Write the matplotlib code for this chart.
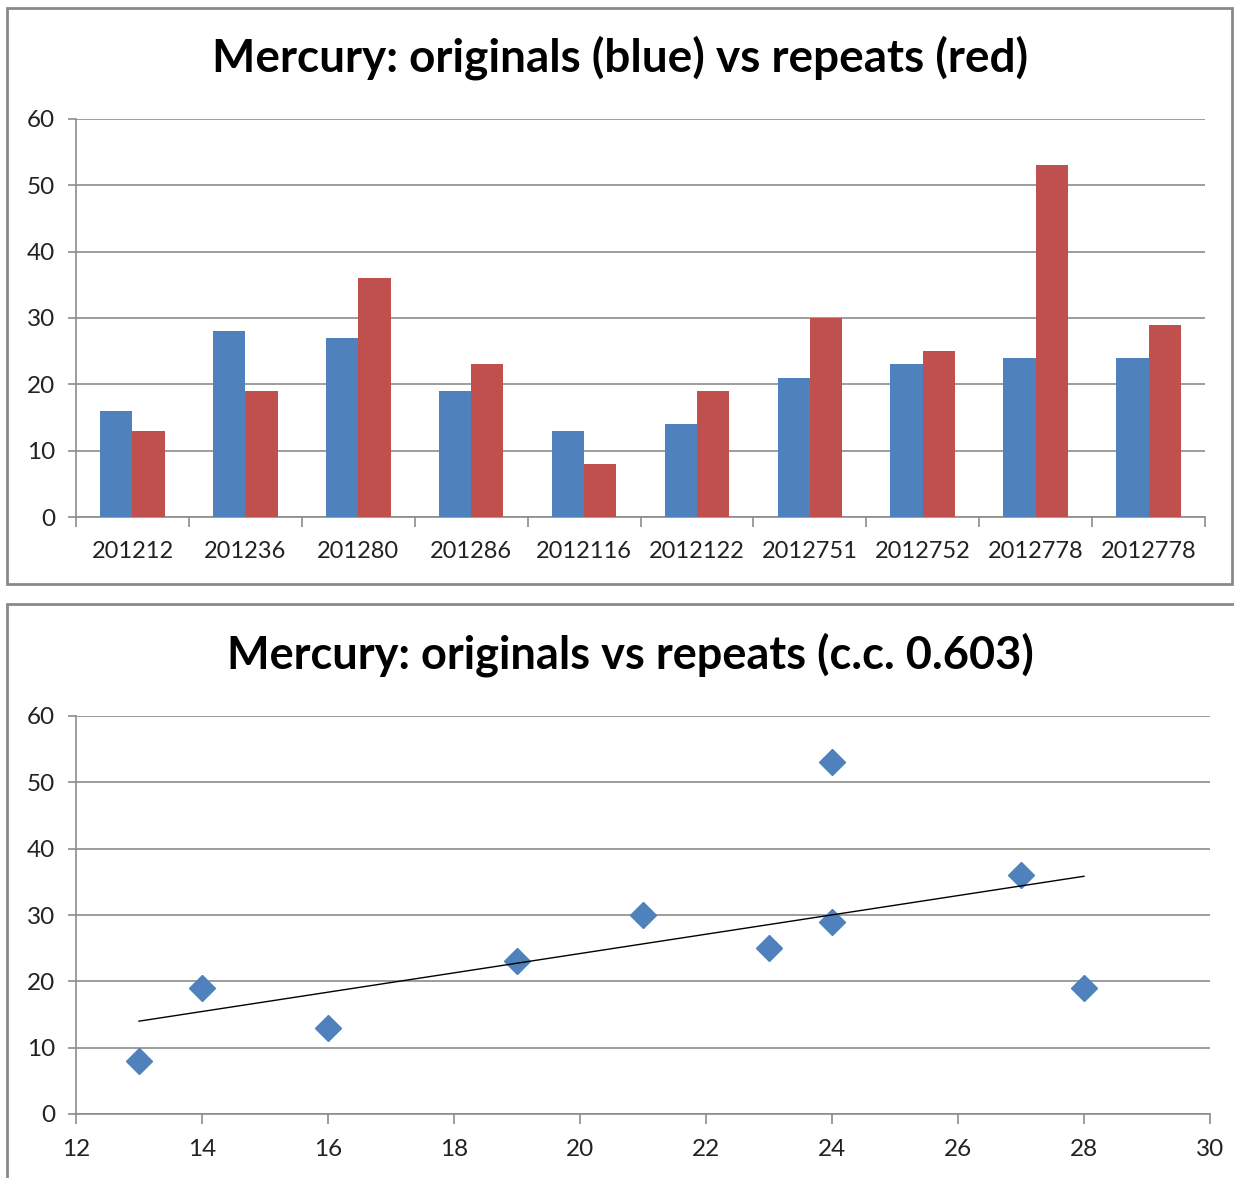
import matplotlib
matplotlib.use("Agg")
import matplotlib.pyplot as plt
import numpy as np
from matplotlib.patches import Rectangle

# Data
samples = ["201212", "201236", "201280", "201286", "2012116",
           "2012122", "2012751", "2012752", "2012778", "2012778"]
originals = [16, 28, 27, 19, 13, 14, 21, 23, 24, 24]
repeats = [13, 19, 36, 23, 8, 19, 30, 25, 53, 29]
cc_label = "0.603"

BLUE = "#4F81BD"
RED = "#C0504D"
GRID = "#8C8C8C"

W, H = 1234, 1178
plt.rcParams["font.family"] = ["Lato", "DejaVu Sans"]

fig = plt.figure(figsize=(W / 100, H / 100), dpi=100)


def px_rect(x0, y0, x1, y1):
    # pixel box -> figure fraction [left, bottom, width, height]
    return [x0 / W, 1 - y1 / H, (x1 - x0) / W, (y1 - y0) / H]


# chart frames
for (x0, y0, x1, y1) in [(7, 8, 1232, 584), (7, 604, 1240, 1190)]:
    fig.patches.append(Rectangle((x0 / W, 1 - y1 / H), (x1 - x0) / W, (y1 - y0) / H,
                                 transform=fig.transFigure, fill=False,
                                 edgecolor="#8a8a8a", linewidth=2))


def style_axes(ax):
    for side in ["top", "right"]:
        ax.spines[side].set_visible(False)
    for side in ["left", "bottom"]:
        ax.spines[side].set_color(GRID)
        ax.spines[side].set_linewidth(1.2)
    ax.set_ylim(0, 60)
    ax.set_yticks(range(0, 61, 10))
    ax.yaxis.grid(True, color=GRID, linewidth=1.2)
    ax.set_axisbelow(True)
    ax.tick_params(axis="y", direction="out", length=6, width=1.2, color=GRID,
                   labelsize=17.5, pad=9, labelcolor="#222222")


# --- top: bar chart
ax1 = fig.add_axes(px_rect(76, 119, 1205, 517))
style_axes(ax1)
n = len(samples)
idx = np.arange(n) + 0.5
bw = 1 / 3.5
ax1.bar(idx - bw / 2, originals, width=bw, color=BLUE, zorder=3)
ax1.bar(idx + bw / 2, repeats, width=bw, color=RED, zorder=3)
ax1.set_xlim(0, n)
ax1.set_xticks(np.arange(n + 1))
ax1.set_xticklabels([])
ax1.set_xticks(idx, minor=True)
ax1.set_xticklabels(samples, minor=True)
ax1.tick_params(axis="x", which="major", direction="out", length=7, width=1.2, color=GRID)
ax1.tick_params(axis="x", which="minor", length=0, labelsize=17, pad=17, labelcolor="#222222")
fig.text(620 / W, 1 - 58 / H, "Mercury: originals (blue) vs repeats (red)",
         ha="center", va="center", fontsize=33, fontweight="bold")

# --- bottom: scatter with linear trend
ax2 = fig.add_axes(px_rect(76, 716, 1210, 1114))
style_axes(ax2)
ax2.plot(originals, repeats, linestyle="none", marker="D", markersize=13,
         color=BLUE, zorder=3)
k, b = np.polyfit(originals, repeats, 1)
xs = np.array([min(originals), max(originals)])
ax2.plot(xs, k * xs + b, color="black", linewidth=1, zorder=4)
ax2.set_xlim(12, 30)
ax2.set_xticks(range(12, 31, 2))
ax2.tick_params(axis="x", direction="out", length=7, width=1.2, color=GRID,
                labelsize=17.5, pad=11, labelcolor="#222222")
fig.text(630 / W, 1 - 655 / H, f"Mercury: originals vs repeats (c.c. {cc_label})",
         ha="center", va="center", fontsize=32.5, fontweight="bold")

fig.savefig("out.png", dpi=100)
